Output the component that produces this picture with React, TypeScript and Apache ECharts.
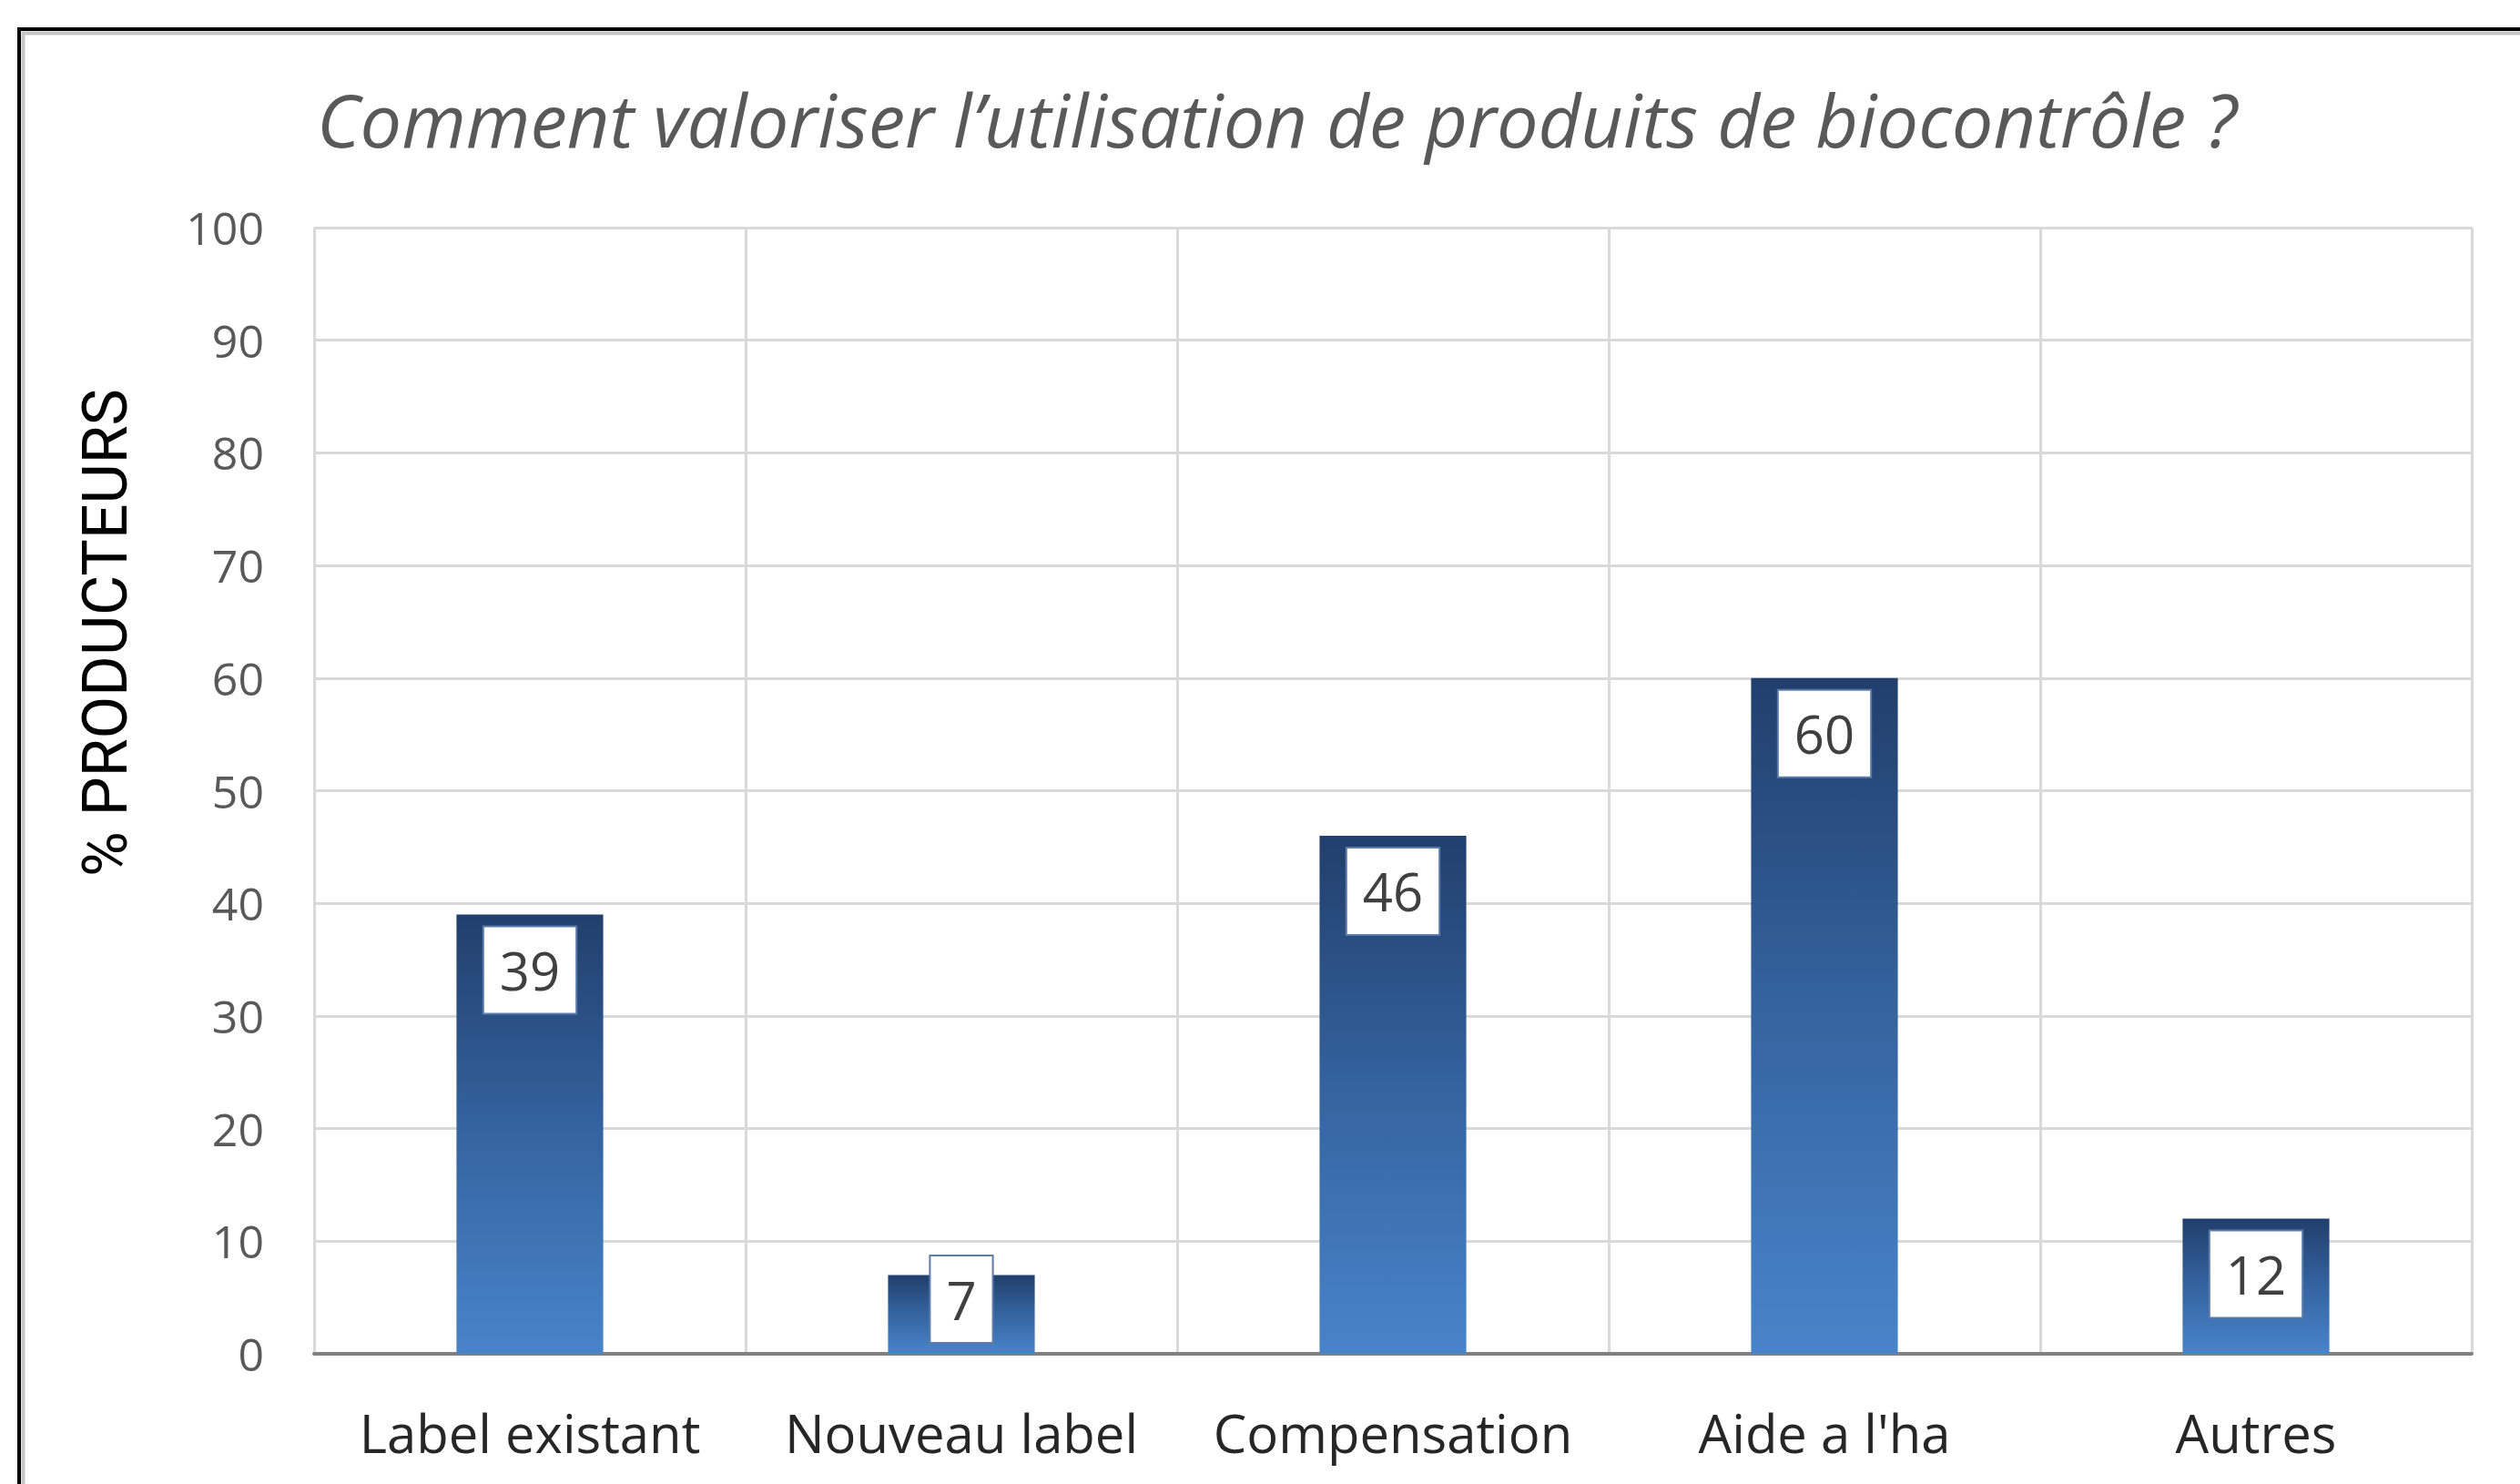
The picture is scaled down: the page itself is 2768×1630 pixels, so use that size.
import React, { useEffect, useRef } from 'react';
import * as echarts from 'echarts';

const categories = ['Label existant', 'Nouveau label', 'Compensation', "Aide a l'ha", 'Autres'];
const values = [39, 7, 46, 60, 12];
const titleText = 'Comment valoriser l’utilisation de produits de biocontrôle ?';
const yAxisTitle = '% PRODUCTEURS';
const yMin = 0;
const yMax = 100;
const yStep = 10;

export default function App() {
  const ref = useRef<HTMLDivElement>(null);

  useEffect(() => {
    document.body.style.margin = '0';
    const chart = echarts.init(ref.current as HTMLDivElement, null, { renderer: 'svg' });

    const barGradient = new echarts.graphic.LinearGradient(0, 0, 0, 1, [
      { offset: 0, color: '#213f6c' },
      { offset: 0.5, color: '#3564a0' },
      { offset: 1, color: '#4884ca' },
    ]);

    const baseLabel = {
      show: true,
      position: 'insideTop',
      distance: 14,
      backgroundColor: '#ffffff',
      borderColor: '#5b7ca8',
      borderWidth: 2,
      padding: [16, 17, 16, 17],
      fontSize: 58,
      lineHeight: 62,
      color: '#404040',
      fontFamily: 'Open Sans',
    };

    chart.setOption({
      animation: false,
      backgroundColor: '#ffffff',
      title: {
        text: titleText,
        left: 348,
        top: 83,
        padding: 0,
        textStyle: {
          fontFamily: 'Open Sans',
          fontStyle: 'italic',
          fontWeight: 'normal',
          fontSize: 81,
          lineHeight: 94,
          color: '#595959',
        },
      },
      graphic: [
        {
          type: 'rect',
          shape: { x: 21, y: 32, width: 2800, height: 1700 },
          style: { fill: 'none', stroke: '#000000', lineWidth: 4 },
          silent: true,
        },
        {
          type: 'rect',
          shape: { x: 25.5, y: 36.5, width: 2800, height: 1700 },
          style: { fill: 'none', stroke: '#c6c6c6', lineWidth: 4 },
          silent: true,
        },
        {
          type: 'text',
          x: 116,
          y: 695,
          rotation: Math.PI / 2,
          style: {
            text: yAxisTitle,
            fontFamily: 'Roboto',
            fontSize: 68,
            fill: '#000000',
            align: 'center',
            verticalAlign: 'middle',
          },
        },
      ],
      grid: {
        left: 345,
        right: 53,
        top: 250,
        bottom: 143,
        containLabel: false,
        outerBoundsMode: 'none',
      },
      xAxis: {
        type: 'category',
        data: categories,
        boundaryGap: true,
        axisLine: { show: true, lineStyle: { color: '#808080', width: 4 } },
        axisTick: { show: false },
        splitLine: { show: true, interval: 0, lineStyle: { color: '#d9d9d9', width: 3 } },
        axisLabel: {
          interval: 0,
          fontFamily: 'Open Sans',
          fontSize: 58,
          lineHeight: 60,
          color: '#262626',
          margin: 56,
        },
      },
      yAxis: {
        type: 'value',
        min: yMin,
        max: yMax,
        interval: yStep,
        axisLine: { show: false },
        axisTick: { show: false },
        splitLine: { show: true, lineStyle: { color: '#d9d9d9', width: 3 } },
        axisLabel: {
          fontFamily: 'Open Sans',
          fontSize: 50,
          color: '#595959',
          margin: 55,
        },
      },
      series: [
        {
          type: 'bar',
          barWidth: '34%',
          data: values.map((v) =>
            v < 10
              ? { value: v, label: { position: 'insideBottom', distance: 13 } }
              : v
          ),
          itemStyle: { color: barGradient },
          label: baseLabel,
        },
      ],
    });

    return () => chart.dispose();
  }, []);

  return <div ref={ref} style={{ width: 2768, height: 1630 }} />;
}
